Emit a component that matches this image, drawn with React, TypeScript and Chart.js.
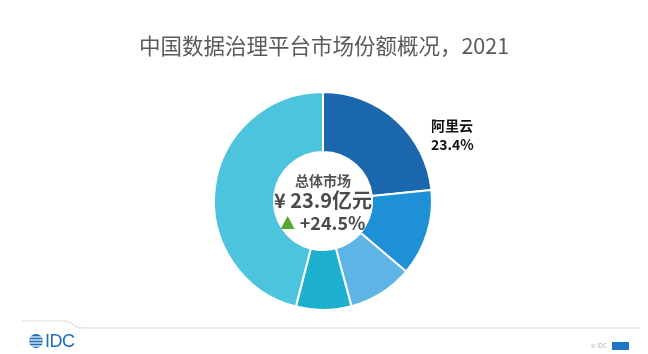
import React, { useEffect, useRef } from "react";
import { Chart, registerables } from "chart.js";

Chart.register(...registerables);

const titleText = "中国数据治理平台市场份额概况，2021";
const categories = ["阿里云", "厂商二", "厂商三", "厂商四", "其他"];
const shares = [23.4, 12.8, 9.6, 8.2, 46.0];
const colors = ["#1b67ad", "#1e90d6", "#5fb4e6", "#1db1cf", "#4cc4dd"];
const labelledIndex = [0];
const centerTitle = "总体市场";
const centerValue = "¥ 23.9亿元";
const centerGrowth = "+24.5%";

const FONT = '"Noto Sans CJK SC", "Noto Sans", sans-serif';

const overlayPlugin = {
  id: "overlayText",
  afterDraw(chart: any) {
    const ctx = chart.ctx;
    const meta = chart.getDatasetMeta(0);
    const arc0 = meta.data[0];
    if (!arc0) return;
    const cx = arc0.x;
    const cy = arc0.y;
    const R = arc0.outerRadius;
    ctx.save();
    // center text
    ctx.textAlign = "center";
    ctx.textBaseline = "middle";
    ctx.fillStyle = "#555555";
    ctx.font = `bold 14px ${FONT}`;
    ctx.fillText(centerTitle, cx, cy - 20);
    ctx.fillStyle = "#4a4a4a";
    ctx.font = `bold 20px ${FONT}`;
    ctx.fillText(centerValue, cx, cy - 1);
    // growth with triangle
    ctx.font = `bold 18px ${FONT}`;
    const gw = ctx.measureText(centerGrowth).width;
    const triW = 14;
    const gap = 5;
    const total = triW + gap + gw;
    const startX = cx - total / 2;
    const gy = cy + 21;
    ctx.fillStyle = "#55a832";
    ctx.beginPath();
    ctx.moveTo(startX, gy + 7);
    ctx.lineTo(startX + triW, gy + 7);
    ctx.lineTo(startX + triW / 2, gy - 6);
    ctx.closePath();
    ctx.fill();
    ctx.fillStyle = "#4a4a4a";
    ctx.textAlign = "left";
    ctx.fillText(centerGrowth, startX + triW + gap, gy + 1);
    // slice labels
    labelledIndex.forEach((i) => {
      ctx.fillStyle = "#111111";
      ctx.font = `bold 14px ${FONT}`;
      ctx.textAlign = "left";
      const lx = cx + R - 1;
      const ly = cy - 75;
      ctx.fillText(categories[i], lx, ly);
      ctx.fillText(shares[i].toFixed(1) + "%", lx, ly + 19);
    });
    ctx.restore();
  },
};

export default function App() {
  const ref = useRef<HTMLCanvasElement | null>(null);
  useEffect(() => {
    document.body.style.margin = "0";
    document.body.style.background = "#ffffff";
    const chart = new Chart(ref.current as HTMLCanvasElement, {
      type: "doughnut",
      data: {
        labels: categories,
        datasets: [
          {
            data: shares,
            backgroundColor: colors,
            borderColor: "#ffffff",
            borderWidth: 2,
          },
        ],
      },
      options: {
        animation: false,
        responsive: false,
        cutout: "45%",
        layout: { padding: { top: 91, bottom: 43, left: 213, right: 215 } },
        plugins: {
          legend: { display: false },
          tooltip: { enabled: false },
          title: { display: false },
        },
      },
      plugins: [overlayPlugin],
    });
    return () => chart.destroy();
  }, []);

  return (
    <div
      style={{
        position: "relative",
        width: 648,
        height: 354,
        background: "#ffffff",
        overflow: "hidden",
        fontFamily: FONT,
      }}
    >
      <canvas ref={ref} width={648} height={354} style={{ position: "absolute", left: 0, top: 0 }} />
      <div
        style={{
          position: "absolute",
          left: 0,
          top: 30,
          width: 648,
          textAlign: "center",
          fontSize: 21.5,
          lineHeight: "30px",
          color: "#5a5a5a",
          fontWeight: 400,
        }}
      >
        {titleText}
      </div>
      <svg
        width={648}
        height={354}
        style={{ position: "absolute", left: 0, top: 0, pointerEvents: "none" }}
      >
        <path
          d="M22 321 L62 321 Q70 321 74 325 Q77 328 84 328 L640 328"
          fill="none"
          stroke="#e6e6e6"
          strokeWidth={1.5}
        />
        <g>
          <circle cx={36} cy={341} r={7} fill="#1f6fb5" />
          <line x1={28} y1={337} x2={44} y2={337} stroke="#ffffff" strokeWidth={1.2} />
          <line x1={28} y1={340} x2={44} y2={340} stroke="#ffffff" strokeWidth={1.2} />
          <line x1={28} y1={343} x2={44} y2={343} stroke="#ffffff" strokeWidth={1.2} />
          <line x1={28} y1={346} x2={44} y2={346} stroke="#ffffff" strokeWidth={1.2} />
        </g>
        <rect x={612} y={342} width={17} height={8} fill="#1f77c4" />
      </svg>
      <div
        style={{
          position: "absolute",
          left: 45,
          top: 331,
          fontSize: 18,
          lineHeight: "20px",
          color: "#1f6fb5",
          fontFamily: '"Liberation Sans", Arial, sans-serif',
          letterSpacing: -0.5,
        }}
      >
        IDC
      </div>
      <div
        style={{
          position: "absolute",
          left: 591,
          top: 342,
          fontSize: 6,
          lineHeight: "8px",
          color: "#aaaaaa",
        }}
      >
        © IDC
      </div>
    </div>
  );
}
